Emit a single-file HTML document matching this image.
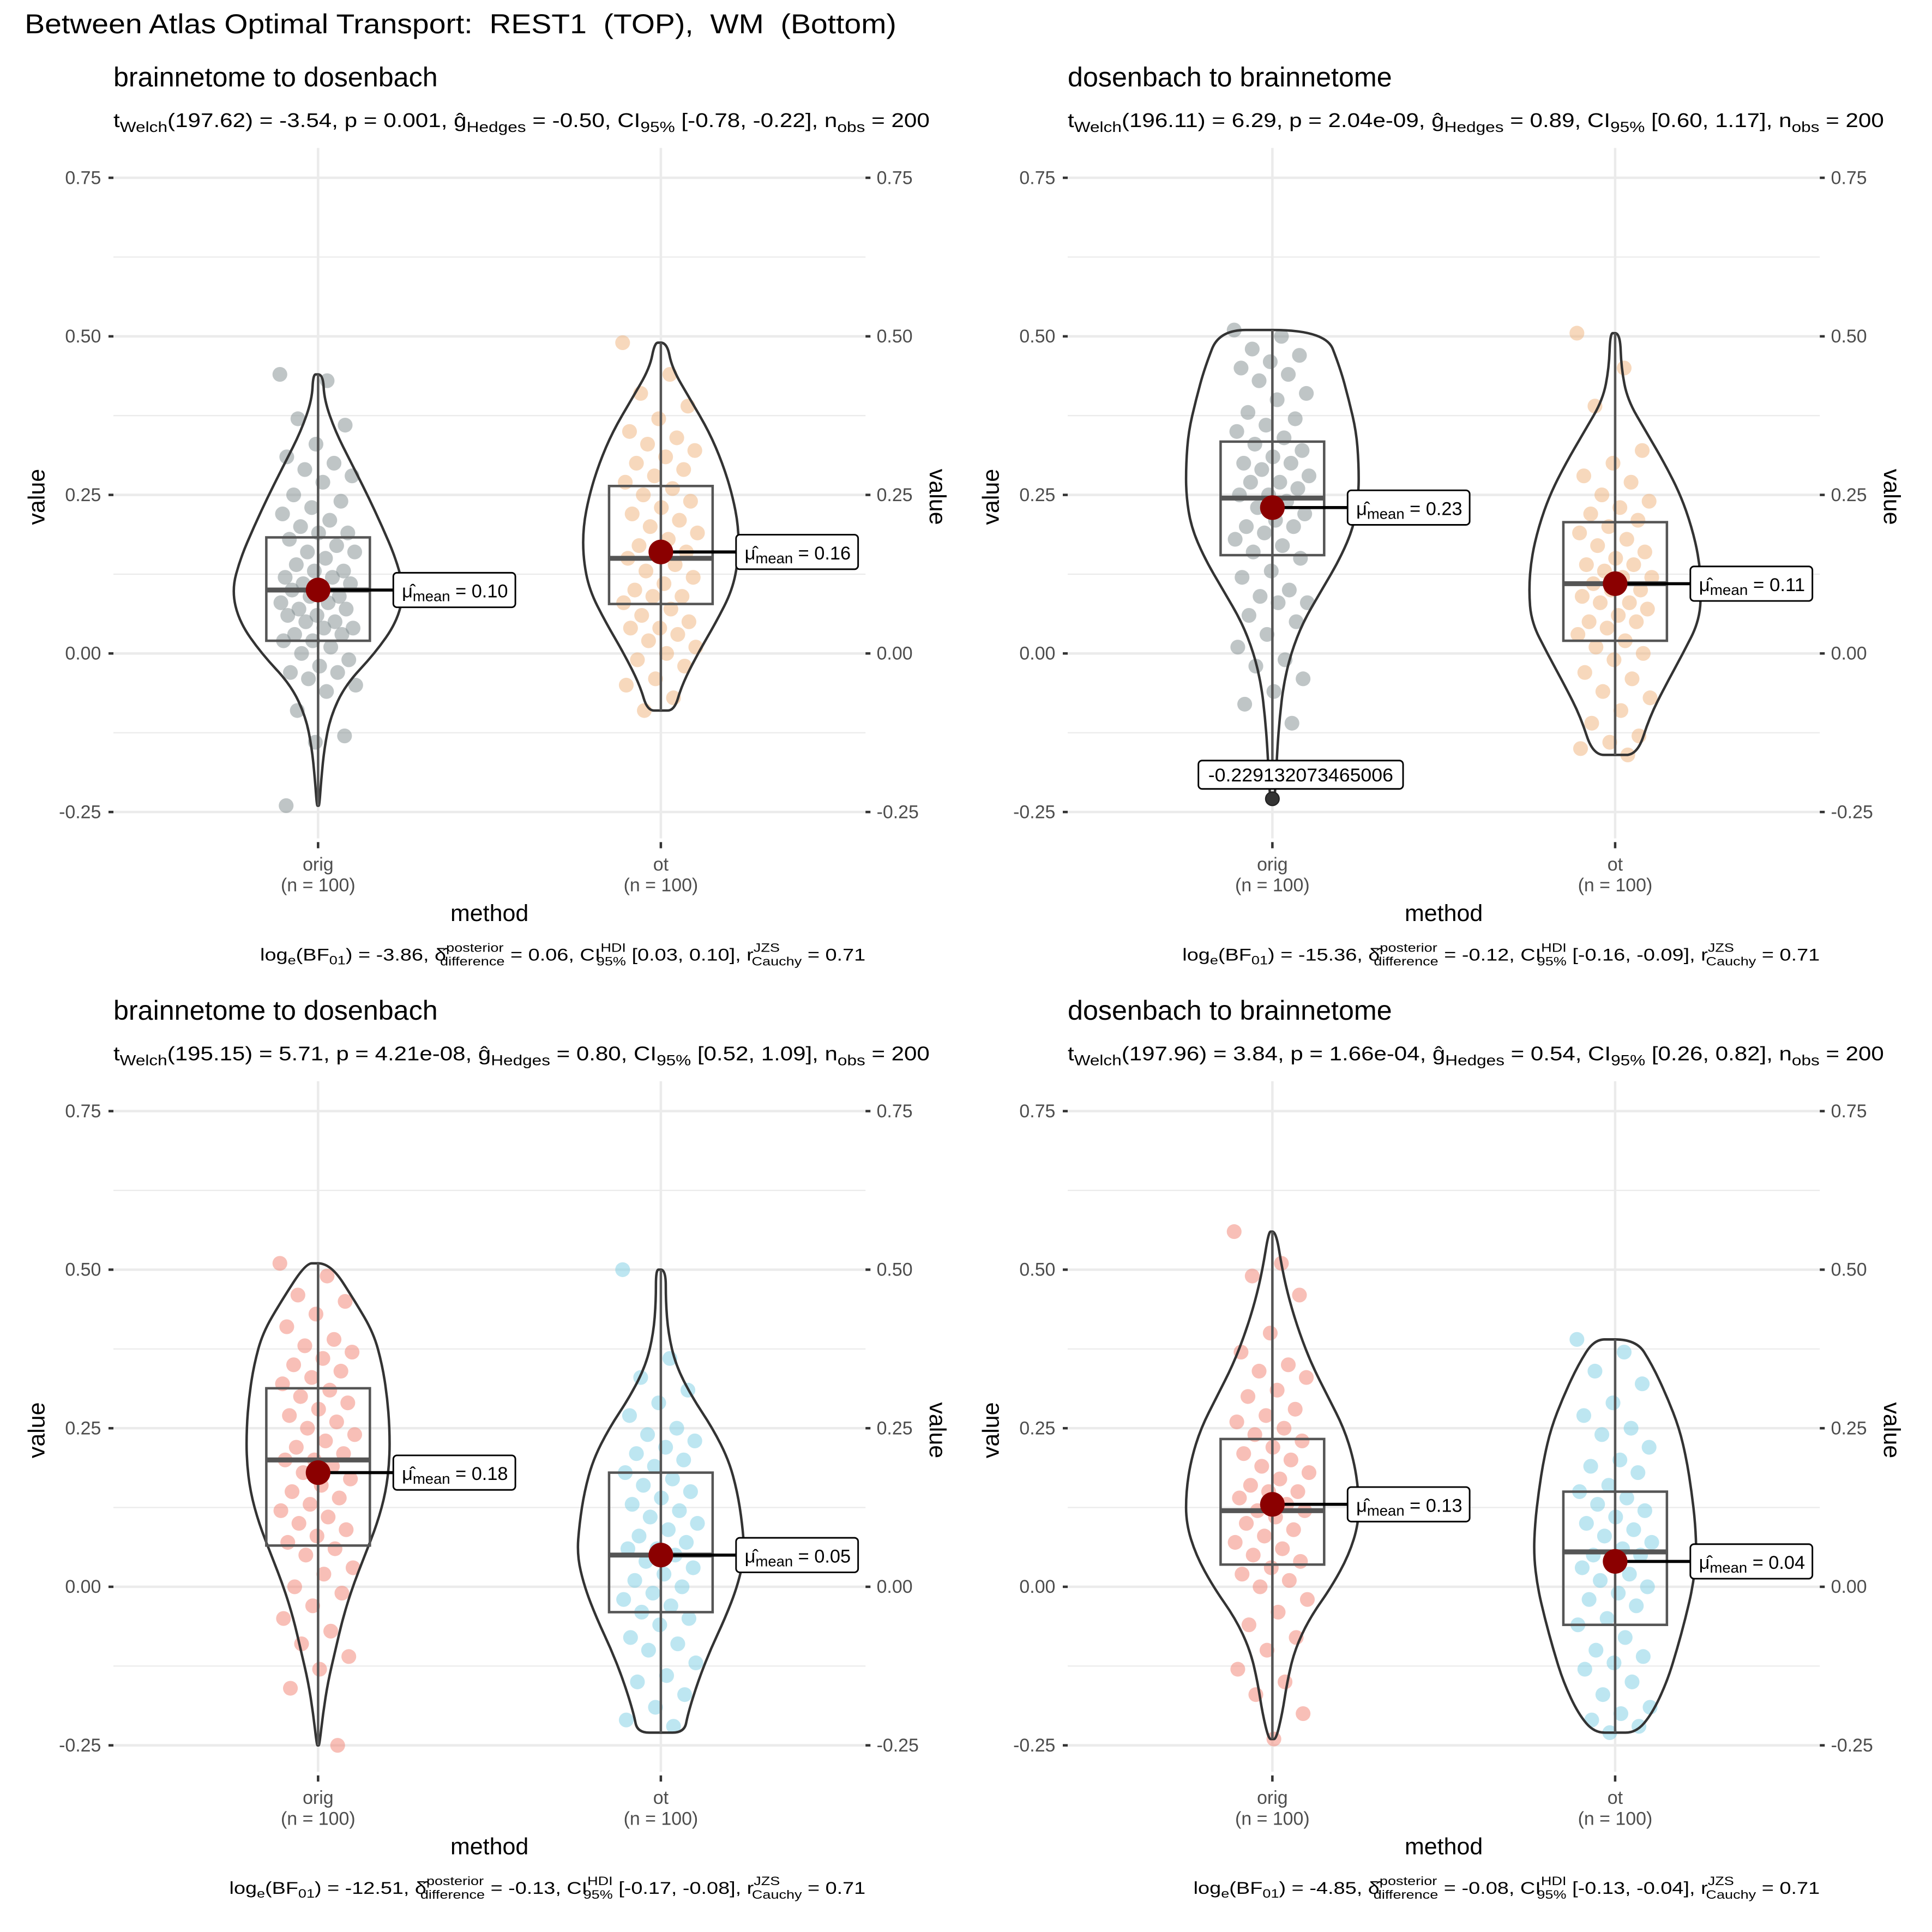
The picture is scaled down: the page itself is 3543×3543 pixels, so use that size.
<!DOCTYPE html>
<html><head><meta charset="utf-8"><style>
html,body{margin:0;padding:0;background:#fff}
svg{display:block}
text{font-family:"Liberation Sans",Arial,sans-serif;white-space:pre}
</style></head><body>
<svg id="chart" xmlns="http://www.w3.org/2000/svg" width="3543" height="3543" viewBox="0 0 1567 1567">
<rect width="1567" height="1567" fill="#fff"/>
<text x="20" y="27" font-size="22" fill="#000" textLength="707" lengthAdjust="spacingAndGlyphs" xml:space="preserve">Between Atlas Optimal Transport:  REST1  (TOP),  WM  (Bottom)</text>
</svg>
<script>
// ---- data ----
const categories = ["orig", "ot"];
const yTicks = [0.75, 0.50, 0.25, 0.00, -0.25];
const yTickLabels = ["0.75", "0.50", "0.25", "0.00", "-0.25"];
const yMinor = [0.625, 0.375, 0.125, -0.125];
const panelTitles = ["brainnetome to dosenbach", "dosenbach to brainnetome", "brainnetome to dosenbach", "dosenbach to brainnetome"];
const means = [[0.10, 0.16], [0.23, 0.11], [0.18, 0.05], [0.13, 0.04]];
const meanLabels = [["0.10", "0.16"], ["0.23", "0.11"], ["0.18", "0.05"], ["0.13", "0.04"]];
const boxQ1 = [[0.02, 0.078], [0.155, 0.02], [0.065, -0.04], [0.035, -0.06]];
const boxMed = [[0.10, 0.15], [0.245, 0.11], [0.20, 0.05], [0.12, 0.055]];
const boxQ3 = [[0.183, 0.264], [0.334, 0.207], [0.313, 0.18], [0.233, 0.15]];
const whiskLo = [[-0.24, -0.09], [-0.20, -0.16], [-0.25, -0.23], [-0.24, -0.23]];
const whiskHi = [[0.44, 0.49], [0.51, 0.505], [0.51, 0.50], [0.56, 0.39]];
// violin outlines: [value, half-width in px]
const violins = [
 [[[0.44,4],[0.40,5],[0.35,14],[0.30,27],[0.25,40],[0.20,52],[0.15,63],[0.10,70],[0.05,64],[0.0,46],[-0.05,22],[-0.10,10],[-0.15,5],[-0.20,2.5],[-0.24,1]],
  [[0.49,5],[0.45,9],[0.40,24],[0.35,39],[0.30,50],[0.25,58],[0.20,63],[0.15,63],[0.10,58],[0.05,45],[0.0,30],[-0.05,17],[-0.09,11]]],
 [[[0.51,43],[0.45,55],[0.40,62],[0.35,68],[0.30,70],[0.25,70],[0.20,66],[0.15,55],[0.10,40],[0.05,25],[0.0,15],[-0.05,9],[-0.10,6],[-0.15,4],[-0.23,2]],
  [[0.505,4],[0.45,5],[0.40,10],[0.35,25],[0.30,40],[0.25,53],[0.20,62],[0.15,68],[0.10,70],[0.05,68],[0.0,55],[-0.05,41],[-0.10,28],[-0.16,18]]],
 [[[0.51,10],[0.45,30],[0.40,45],[0.35,52],[0.30,56],[0.25,58],[0.20,58],[0.15,55],[0.10,48],[0.05,38],[0.0,28],[-0.05,20],[-0.10,14],[-0.15,8],[-0.20,4],[-0.25,1]],
  [[0.50,4],[0.45,4],[0.40,6],[0.35,12],[0.30,25],[0.25,42],[0.20,55],[0.15,62],[0.10,66],[0.05,68],[0.0,62],[-0.05,52],[-0.10,40],[-0.15,30],[-0.20,22],[-0.23,19]]],
 [[[0.56,3],[0.50,8],[0.45,14],[0.40,22],[0.35,32],[0.30,45],[0.25,58],[0.20,66],[0.15,70],[0.10,70],[0.05,62],[0.0,48],[-0.05,30],[-0.10,18],[-0.15,12],[-0.20,8],[-0.24,3]],
  [[0.39,17],[0.35,30],[0.30,42],[0.25,52],[0.20,58],[0.15,62],[0.10,65],[0.05,66],[0.0,63],[-0.05,57],[-0.10,50],[-0.15,42],[-0.20,30],[-0.23,17]]]
];
const points = [
 [[0.44,0.43,0.37,0.36,0.33,0.31,0.30,0.29,0.28,0.27,0.25,0.24,0.23,0.22,0.21,0.20,0.19,0.19,0.18,0.17,0.16,0.16,0.15,0.14,0.13,0.13,0.12,0.12,0.11,0.11,0.10,0.10,0.09,0.09,0.08,0.08,0.07,0.07,0.06,0.06,0.05,0.05,0.04,0.04,0.03,0.03,0.02,0.02,0.01,0.0,-0.01,-0.02,-0.03,-0.03,-0.04,-0.05,-0.06,-0.09,-0.13,-0.14,-0.24],
  [0.49,0.44,0.41,0.39,0.37,0.35,0.34,0.33,0.32,0.31,0.30,0.29,0.28,0.27,0.26,0.25,0.24,0.23,0.22,0.21,0.20,0.19,0.18,0.17,0.16,0.16,0.15,0.14,0.13,0.12,0.11,0.10,0.09,0.09,0.08,0.07,0.06,0.05,0.04,0.04,0.03,0.02,0.01,0.0,-0.01,-0.02,-0.04,-0.05,-0.07,-0.09]],
 [[0.51,0.50,0.48,0.47,0.46,0.45,0.44,0.43,0.41,0.40,0.38,0.37,0.36,0.35,0.34,0.33,0.32,0.31,0.30,0.30,0.29,0.28,0.27,0.27,0.26,0.25,0.25,0.24,0.23,0.22,0.21,0.20,0.20,0.19,0.18,0.17,0.16,0.15,0.13,0.12,0.10,0.09,0.08,0.08,0.06,0.05,0.03,0.01,-0.01,-0.02,-0.04,-0.06,-0.08,-0.11],
  [0.505,0.45,0.39,0.32,0.30,0.28,0.27,0.25,0.24,0.23,0.22,0.21,0.20,0.19,0.18,0.17,0.16,0.15,0.14,0.14,0.13,0.12,0.12,0.11,0.10,0.10,0.09,0.08,0.08,0.07,0.06,0.05,0.05,0.04,0.03,0.02,0.01,0.0,-0.01,-0.03,-0.04,-0.06,-0.07,-0.09,-0.11,-0.13,-0.14,-0.15,-0.16]],
 [[0.51,0.49,0.46,0.45,0.43,0.41,0.39,0.38,0.37,0.36,0.35,0.34,0.33,0.32,0.31,0.30,0.29,0.28,0.27,0.26,0.25,0.24,0.23,0.22,0.21,0.20,0.20,0.19,0.18,0.17,0.16,0.15,0.14,0.13,0.12,0.11,0.10,0.09,0.08,0.07,0.06,0.05,0.03,0.02,0.0,-0.01,-0.03,-0.05,-0.07,-0.09,-0.11,-0.13,-0.16,-0.25],
  [0.50,0.36,0.33,0.31,0.29,0.27,0.25,0.24,0.23,0.22,0.21,0.20,0.19,0.18,0.17,0.16,0.15,0.14,0.13,0.12,0.11,0.10,0.09,0.08,0.07,0.06,0.06,0.05,0.04,0.03,0.02,0.01,0.0,-0.01,-0.02,-0.03,-0.04,-0.05,-0.06,-0.08,-0.09,-0.10,-0.12,-0.14,-0.15,-0.17,-0.19,-0.21,-0.22]],
 [[0.56,0.51,0.49,0.46,0.40,0.37,0.35,0.34,0.33,0.31,0.30,0.28,0.27,0.26,0.25,0.24,0.23,0.22,0.21,0.20,0.19,0.18,0.17,0.16,0.15,0.15,0.14,0.13,0.12,0.12,0.11,0.10,0.09,0.08,0.07,0.06,0.05,0.04,0.03,0.02,0.01,0.0,-0.02,-0.04,-0.06,-0.08,-0.10,-0.13,-0.15,-0.17,-0.20,-0.24],
  [0.39,0.37,0.34,0.32,0.29,0.27,0.25,0.24,0.22,0.20,0.19,0.18,0.16,0.15,0.14,0.13,0.12,0.11,0.10,0.09,0.08,0.07,0.06,0.05,0.05,0.04,0.03,0.02,0.01,0.0,-0.01,-0.02,-0.03,-0.05,-0.06,-0.08,-0.10,-0.11,-0.12,-0.13,-0.15,-0.17,-0.19,-0.20,-0.21,-0.22,-0.23]]
];
const outlierValue = -0.229132073465006;
const outlierLabel = "-0.229132073465006";
const subtitles = [
 ["197.62","-3.54","0.001","-0.50","[-0.78, -0.22]","200"],
 ["196.11","6.29","2.04e-09","0.89","[0.60, 1.17]","200"],
 ["195.15","5.71","4.21e-08","0.80","[0.52, 1.09]","200"],
 ["197.96","3.84","1.66e-04","0.54","[0.26, 0.82]","200"]
];
const captions = [
 ["-3.86","0.06","[0.03, 0.10]","0.71"],
 ["-15.36","-0.12","[-0.16, -0.09]","0.71"],
 ["-12.51","-0.13","[-0.17, -0.08]","0.71"],
 ["-4.85","-0.08","[-0.13, -0.04]","0.71"]
];
const nLabels = ["(n = 100)", "(n = 100)"];

// ---- layout ----
const NS = "http://www.w3.org/2000/svg";
const svg = document.getElementById("chart");
const offsets = [[0,0],[774,0],[0,757],[774,757]];
const fills = [["#7f8c8d","#f0b27a"],["#7f8c8d","#f0b27a"],["#f1806f","#7ccde3"],["#f1806f","#7ccde3"]];

function el(tag, attrs, parent) {
  const e = document.createElementNS(NS, tag);
  for (const k in attrs) e.setAttribute(k, attrs[k]);
  (parent || svg).appendChild(e);
  return e;
}
function smoothPath(pts) {
  let d = "M" + pts[0][0] + "," + pts[0][1];
  for (let i = 1; i < pts.length - 1; i++) {
    const mx = (pts[i][0] + pts[i+1][0]) / 2, my = (pts[i][1] + pts[i+1][1]) / 2;
    d += " Q" + pts[i][0] + "," + pts[i][1] + " " + mx + "," + my;
  }
  const l = pts[pts.length-1];
  d += " L" + l[0] + "," + l[1];
  return d;
}

for (let p = 0; p < 4; p++) {
  const ox = offsets[p][0], oy = offsets[p][1];
  const yS = v => oy + 530 - v * 514.4;
  const xS = i => ox + [258, 536][i];
  const g = el("g", {});
  
  

  yMinor.forEach(v => {
    const l = el("line", {x1: ox+92, x2: ox+702, y1: yS(v), y2: yS(v), stroke: "#ebebeb", "stroke-width": 1}, g);
    
    
  });
  yTicks.forEach((v, i) => {
    const l = el("line", {x1: ox+92, x2: ox+702, y1: yS(v), y2: yS(v), stroke: "#ebebeb", "stroke-width": 2}, g);
    
    
    const t1 = el("line", {x1: ox+88, x2: ox+92, y1: yS(v), y2: yS(v), stroke: "#333", "stroke-width": 2}, g);
    
    
    const t2 = el("line", {x1: ox+702, x2: ox+706, y1: yS(v), y2: yS(v), stroke: "#333", "stroke-width": 2}, g);
    
    
    const a = el("text", {x: ox+82, y: yS(v)+5, "font-size": 15, fill: "#4d4d4d", "text-anchor": "end"}, g);
    a.textContent = yTickLabels[i];
    
    
    const b = el("text", {x: ox+711, y: yS(v)+5, "font-size": 15, fill: "#4d4d4d"}, g);
    b.textContent = yTickLabels[i];
    
    
  });
  categories.forEach((c, i) => {
    const l = el("line", {x1: xS(i), x2: xS(i), y1: oy+120, y2: oy+680, stroke: "#ebebeb", "stroke-width": 2}, g);
    
    
    const tk = el("line", {x1: xS(i), x2: xS(i), y1: oy+683, y2: oy+688, stroke: "#333", "stroke-width": 2}, g);
    
    
    const t = el("text", {x: xS(i), y: oy+706, "font-size": 15, fill: "#4d4d4d", "text-anchor": "middle"}, g);
    t.textContent = c;
    
    
    const n = el("text", {x: xS(i), y: oy+723, "font-size": 15, fill: "#4d4d4d", "text-anchor": "middle"}, g);
    n.textContent = nLabels[i];
    
    
  });

  categories.forEach((c, i) => {
    const cx = xS(i);
    points[p][i].forEach((v, k) => {
      const jx = (((k * 0.618034) % 1) - 0.5) * 62;
      const pt = el("circle", {cx: cx + jx, cy: yS(v), r: 6, fill: fills[p][i], "fill-opacity": 0.5}, g);
      
      
    });
    const vd = violins[p][i];
    const right = vd.map(a => [cx + a[1], yS(a[0])]);
    const left = vd.slice().reverse().map(a => [cx - a[1], yS(a[0])]);
    const all = [[cx, yS(vd[0][0])]].concat(right, [[cx, yS(vd[vd.length-1][0])]], left, [[cx, yS(vd[0][0])]]);
    const vp = el("path", {d: smoothPath(all) + " Z", fill: "none", stroke: "#333", "stroke-width": 2}, g);
    
    
    const w = el("line", {x1: cx, x2: cx, y1: yS(whiskLo[p][i]), y2: yS(whiskHi[p][i]), stroke: "#555", "stroke-width": 2}, g);
    
    
    const bx = el("rect", {x: cx-42, y: yS(boxQ3[p][i]), width: 84, height: yS(boxQ1[p][i]) - yS(boxQ3[p][i]), fill: "none", stroke: "#555", "stroke-width": 2}, g);
    
    
    const md = el("line", {x1: cx-42, x2: cx+42, y1: yS(boxMed[p][i]), y2: yS(boxMed[p][i]), stroke: "#555", "stroke-width": 4}, g);
    
    
    const my = yS(means[p][i]);
    const ml = el("line", {x1: cx, x2: cx+61, y1: my, y2: my, stroke: "#000", "stroke-width": 2.5}, g);
    
    
    const mp = el("circle", {cx: cx, cy: my, r: 10, fill: "#8b0000"}, g);
    
    
    const lb = el("rect", {x: cx+61, y: my-14, width: 99, height: 28, rx: 3, fill: "#fff", stroke: "#000", "stroke-width": 1.3}, g);
    
    
    const lt = el("text", {x: cx+68, y: my+6, "font-size": 15, fill: "#000", textLength: 86, lengthAdjust: "spacingAndGlyphs"}, g);
    lt.innerHTML = 'μ̂<tspan font-size="12" baseline-shift="-3">mean</tspan> = ' + meanLabels[p][i];
    
    
  });

  if (p === 1) {
    const oyv = yS(outlierValue);
    const op = el("circle", {cx: xS(0), cy: oyv, r: 5.5, fill: "#333", stroke: "#222"}, g);
    
    
    const ob = el("rect", {x: xS(0)-60, y: oyv-31, width: 166, height: 23, rx: 3, fill: "#fff", stroke: "#000", "stroke-width": 1.3}, g);
    
    
    const ot = el("text", {x: xS(0)+23, y: oyv-14, "font-size": 15, fill: "#000", "text-anchor": "middle", textLength: 150, lengthAdjust: "spacingAndGlyphs"}, g);
    ot.textContent = outlierLabel;
    
    
  }

  const tt = el("text", {x: ox+92, y: oy+70, "font-size": 22, fill: "#000", textLength: 263, lengthAdjust: "spacingAndGlyphs"}, g);
  tt.textContent = panelTitles[p];
  
  
  const s = subtitles[p];
  const st = el("text", {x: ox+92, y: oy+103, "font-size": 16, fill: "#000", textLength: 662, lengthAdjust: "spacingAndGlyphs"}, g);
  st.innerHTML = 't<tspan font-size="12" baseline-shift="-4">Welch</tspan>(' + s[0] + ') = ' + s[1] + ', p = ' + s[2] +
    ', ĝ<tspan font-size="12" baseline-shift="-4">Hedges</tspan> = ' + s[3] + ', CI<tspan font-size="12" baseline-shift="-4">95%</tspan> ' + s[4] +
    ', n<tspan font-size="12" baseline-shift="-4">obs</tspan> = ' + s[5];
  
  
  const cp = captions[p];
  const cpx = (p % 2 === 0) ? [p === 0 ? 211 : 186, 702] : [p === 1 ? 959 : 968, 1476];
  const ct = el("text", {x: cpx[0], y: oy+779, "font-size": 14, fill: "#000", textLength: cpx[1]-cpx[0], lengthAdjust: "spacingAndGlyphs"}, g);
  ct.innerHTML = 'log<tspan font-size="10" baseline-shift="-3">e</tspan>(BF<tspan font-size="10" baseline-shift="-3">01</tspan>) = ' + cp[0] +
    ', δ̂<tspan font-size="10" baseline-shift="7">posterior</tspan><tspan font-size="10" dx="-43" baseline-shift="-4">difference</tspan> = ' + cp[1] +
    ', CI<tspan font-size="10" baseline-shift="7">HDI</tspan><tspan font-size="10" dx="-20" baseline-shift="-4">95%</tspan> ' + cp[2] +
    ', r<tspan font-size="10" baseline-shift="7">JZS</tspan><tspan font-size="10" dx="-19" baseline-shift="-4">Cauchy</tspan> = ' + cp[3];
  
  
  const xt = el("text", {x: ox+397, y: oy+747, "font-size": 19, fill: "#000", "text-anchor": "middle"}, g);
  xt.textContent = "method";
  
  
  const yt = el("text", {x: 0, y: 0, "font-size": 19, fill: "#000", "text-anchor": "middle", transform: "translate(" + (ox+36) + "," + (oy+403) + ") rotate(-90)"}, g);
  yt.textContent = "value";
  
  
  const yt2 = el("text", {x: 0, y: 0, "font-size": 19, fill: "#000", "text-anchor": "middle", transform: "translate(" + (ox+754) + "," + (oy+403) + ") rotate(90)"}, g);
  yt2.textContent = "value";
  
  
}
</script>
</body></html>
